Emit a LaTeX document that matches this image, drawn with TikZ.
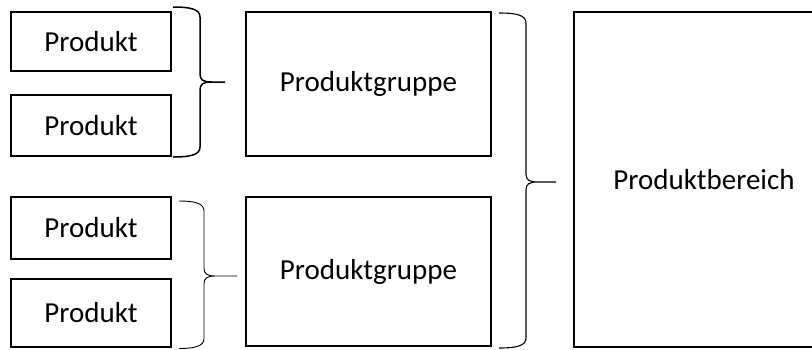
\documentclass[tikz,border=0pt]{standalone}
\usepackage{fontspec}
\setmainfont{Carlito}
\newcommand\drawbrace[7]{% #1 style, #2 end x, #3 vertical x, #4 tip x, #5 top y, #6 mid y, #7 bottom y
  \draw[#1] (#2,#5) .. controls (#3-10,#5) and (#3,#5+2) .. (#3,#5+10)
    -- (#3,#6-8) .. controls (#3,#6-2) and (#3+3,#6) .. (#3+12,#6) -- (#4,#6)
    (#3+12,#6) .. controls (#3+3,#6) and (#3,#6+2) .. (#3,#6+8)
    -- (#3,#7-10) .. controls (#3,#7-2) and (#3-10,#7) .. (#2,#7);}
\begin{document}
\begin{tikzpicture}[x=1pt,y=-1pt,
  box/.style={draw, line width=2pt, inner sep=0pt, font=\fontsize{29}{35}\selectfont},
  prod/.style={box, minimum width=160pt},
  grp/.style={box, minimum width=245pt},
  bracea/.style={line width=1.5pt},
  braceb/.style={line width=0.9pt},
  bracec/.style={line width=1.1pt}]
\useasboundingbox (0,0) rectangle (812,349);
\clip (0,0) rectangle (812,349);
\node[prod, minimum height=59pt] (p1) at (91,41.5) {Produkt};
\node[prod, minimum height=61pt] (p2) at (91,125.5) {Produkt};
\node[prod, minimum height=62pt] (p3) at (91,228) {Produkt};
\node[prod, minimum height=68pt] (p4) at (91,313) {Produkt};
\node[grp, minimum height=144pt] (g1) at (368.5,84) {Produktgruppe};
\node[grp, minimum height=149pt] (g2) at (368.5,271.5) {Produktgruppe};
\node[box, minimum width=260pt, minimum height=335pt] (pb) at (704,179.5) {Produktbereich};
\drawbrace{bracea}{173}{200}{225}{7}{82}{157}
\drawbrace{braceb}{179}{204}{237}{201}{276}{348.5}
\drawbrace{bracec}{499}{526}{556}{13}{182}{348}
\end{tikzpicture}
\end{document}
